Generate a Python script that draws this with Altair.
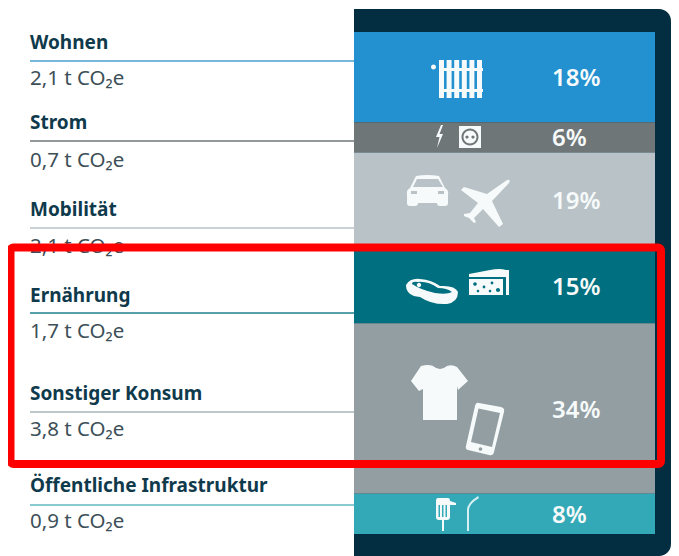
import re
import altair as alt
import pandas as pd

# --- chart values ---
categories = ["Wohnen", "Strom", "Mobilität", "Ernährung", "Sonstiger Konsum", "Öffentliche Infrastruktur"]
tonnes = ["2,1", "0,7", "2,1", "1,7", "3,8", "0,9"]
shares = [18, 6, 19, 15, 34, 8]

# --- styles and layout (page pixels) ---
colors = ["#2390d0", "#6f7678", "#b9c3c7", "#006f7f", "#929ea2", "#33a9b7"]
rule_colors = ["#4a9fd6", "#6f7678", "#b9c3c7", "#1f7f8e", "#a9b4b8", "#62b9c4"]
name_y = [43, 123, 210, 296, 394, 486]
rule_y = [61, 141, 228, 313, 412, 505]
value_y = [79, 161, 247, 332, 430, 522]
OX, OY = 10, 8
PX = lambda x: x - OX
PY = lambda y: y - OY
TOP, PER = 32, 5.02
HEADING = "#0f3a4c"
BODY = "#3d4f58"
FONT = "Noto Sans"
WHITE = "#f6fafa"

rows = []
acc = 0
for c, t, s, col in zip(categories, tonnes, shares, colors):
    rows.append(dict(cat=c, start=acc, end=acc + s, mid=acc + s / 2, label=f"{s}%", color=col))
    acc += s
bars = pd.DataFrame(rows)

y_scale = alt.Scale(domain=[(TOP - OY) / -PER, (548 - (TOP - OY)) / PER], range=[0, 548])


def one(**kw):
    return alt.Chart(pd.DataFrame([kw]))


# --- pictogram outlines ---
def circle(cx, cy, r, cw=True):
    k = r * 0.5523
    if cw:
        return (f"M{cx} {cy-r} C{cx+k} {cy-r} {cx+r} {cy-k} {cx+r} {cy} C{cx+r} {cy+k} {cx+k} {cy+r} {cx} {cy+r} "
                f"C{cx-k} {cy+r} {cx-r} {cy+k} {cx-r} {cy} C{cx-r} {cy-k} {cx-k} {cy-r} {cx} {cy-r} Z ")
    return (f"M{cx} {cy-r} C{cx-k} {cy-r} {cx-r} {cy-k} {cx-r} {cy} C{cx-r} {cy+k} {cx-k} {cy+r} {cx} {cy+r} "
            f"C{cx+k} {cy+r} {cx+r} {cy+k} {cx+r} {cy} C{cx+r} {cy-k} {cx+k} {cy-r} {cx} {cy-r} Z ")


def box(x0, y0, x1, y1, cw=True):
    if cw:
        return f"M{x0} {y0} L{x1} {y0} L{x1} {y1} L{x0} {y1} Z "
    return f"M{x0} {y0} L{x0} {y1} L{x1} {y1} L{x1} {y0} Z "


radiator = circle(433.5, 67, 2.5)
for i in range(6):
    radiator += box(439 + i * 7.6, 60, 444 + i * 7.6, 98)
radiator += box(439, 68, 483, 71) + box(439, 89, 483, 92)

bolt = "M441 125 L436 137 L439.5 137 L437 148 L443 134 L439.5 134 L443 125 Z "
socket = box(459, 126, 481, 148) + circle(470, 137, 8.5, False) + circle(470, 137, 6.5) + circle(467, 137, 1.6, False) + circle(473, 137, 1.6, False)

car = ("M416 176 Q427 174 439 176 L445 188 Q449 190 448 195 L448 203 Q448 206 445 206 L440 206 Q437 206 437 203 "
       "L418 203 Q418 206 415 206 L410 206 Q407 206 407 203 L407 195 Q406 190 410 188 Z "
       "M417 179 L413 187 L443 187 L438 179 Z " + box(411, 191, 417, 194, False) + box(438, 191, 444, 194, False))
plane = ("M507 180 Q511 179 509 183 L492 201 L503 224 L499 227 L483 209 L474 218 L476 222 L474 223 L469 218 "
         "L464 216 L464 214 L470 213 L478 203 L461 190 L464 187 L487 194 Z ")
steak = ("M406 285 Q410 278 420 279 Q432 280 440 286 Q455 285 458 292 Q458 302 447 304 Q432 305 420 297 Q406 296 406 285 Z "
         "M412 284 Q421 290 435 293 Q447 295 452 292 Q447 288 438 288 Q428 281 418 282 Q412 281 412 284 Z "
         + circle(419, 285, 2.2))
cheese = ("M469 274 L490 270 Q500 268 506 270 L506 277 L469 277 Z " + box(469, 279, 503, 295) + box(506, 270, 509, 295)
          + circle(475, 284, 1.8, False) + circle(484, 287, 1.4, False) + circle(492, 283, 1.4, False)
          + circle(498, 290, 2, False) + circle(478, 291, 1.3, False) + circle(490, 291, 1.3, False))
shirt = ("M421 366 Q428 364 433 366 Q440 372 447 366 Q452 364 457 367 L468 381 L458 390 L457 386 L457 420 L423 420 "
         "L423 389 L419 391 L411 381 Z ")
phone = ("M479 403 L501 407 Q505 408 504 412 L494 452 Q493 456 489 455 L468 450 Q465 449 466 446 L475 406 Q476 402 479 403 Z "
         "M478.5 408.5 L471 442 L492 447 L500 413 Z " + circle(480.5, 449, 1.8, False))
dryer = ("M438 498 L448 498 Q450 498 450 501 L456 503 L456 505 L450 505 L450 517 Q450 520 447 520 L444 520 L444 531 L442 531 "
         "L442 520 L439 520 Q436 520 436 517 L436 501 Q436 498 438 498 Z "
         + box(438.5, 505, 440, 517, False) + box(442, 505, 443.5, 517, False) + box(445.5, 505, 447, 517, False))
lamp = "M467 531 L467 510 Q467 503 478 496 L479 498 Q469 504 469 510 L469 531 Z "

icons = [
    (radiator, 458, 79, 27, WHITE),
    (bolt, 439.5, 136.5, 12, WHITE),
    (socket, 470, 137, 12, WHITE),
    (car, 427.5, 190, 22, WHITE),
    (plane, 486, 203, 26, WHITE),
    (steak, 432, 291.5, 27, WHITE),
    (cheese, 489, 282, 21, WHITE),
    (shirt, 439.5, 392.5, 29, WHITE),
    (phone, 485, 429, 28, WHITE),
    (dryer, 446, 514.5, 18, WHITE),
    (lamp, 473.5, 513.5, 18, "#d5eff2"),
]


def norm(d, cx, cy, half):
    nums = re.split(r"([MLQCZ])", d)
    out = []
    for tok in nums:
        tok = tok.strip()
        if not tok:
            continue
        if tok in "MLQCZ":
            out.append(tok)
        else:
            vals = [float(v) for v in tok.split()]
            pts = []
            for i in range(0, len(vals), 2):
                pts.append(f"{(vals[i]-cx)/half:.4f} {(vals[i+1]-cy)/half:.4f}")
            out.append(" ".join(pts))
    return " ".join(out)


layers = []

# dark panel
layers.append(one(a=1).mark_rect(color="#032d40", cornerRadiusTopRight=12, cornerRadiusBottomRight=12).encode(
    x=alt.value(PX(354)), x2=alt.value(PX(671)), y=alt.value(PY(9)), y2=alt.value(PY(556))))

# stacked segments
layers.append(alt.Chart(bars).mark_bar().encode(
    x=alt.value(PX(354)), x2=alt.value(PX(655)),
    y=alt.Y("start:Q", scale=y_scale, axis=None), y2="end:Q",
    color=alt.Color("color:N", scale=None, legend=None)))

# percent labels
layers.append(alt.Chart(bars).mark_text(font=FONT, fontSize=24, fontWeight=600, align="left", baseline="middle", dy=2, color=WHITE).encode(
    x=alt.value(PX(552)), y=alt.Y("mid:Q", scale=y_scale, axis=None), text="label:N"))

# left column
for i, c in enumerate(categories):
    layers.append(one(t=c).mark_rule(color=rule_colors[i], strokeWidth=1.6).encode(
        x=alt.value(PX(30)), x2=alt.value(PX(354)), y=alt.value(PY(rule_y[i]))))
    layers.append(one(t=c).mark_text(font=FONT, fontSize=19, fontWeight="bold", align="left", baseline="middle", color=HEADING).encode(
        x=alt.value(PX(30)), y=alt.value(PY(name_y[i])), text="t:N"))
    layers.append(one(t=f"{tonnes[i]} t CO₂e").mark_text(font=FONT, fontSize=20.5, align="left", baseline="middle", color=BODY).encode(
        x=alt.value(PX(30)), y=alt.value(PY(value_y[i])), text="t:N"))

# pictograms
for d, cx, cy, half, col in icons:
    layers.append(one(a=1).mark_point(shape=norm(d, cx, cy, half), size=(2 * half) ** 2, filled=True, fill=col, stroke=None, opacity=1, strokeWidth=0).encode(
        x=alt.value(PX(cx)), y=alt.value(PY(cy))))

# red highlight frame
layers.append(one(a=1).mark_rect(filled=False, stroke="#ff0000", strokeWidth=8, cornerRadius=3, fillOpacity=0).encode(
    x=alt.value(PX(10.5)), x2=alt.value(PX(661)), y=alt.value(PY(247.5)), y2=alt.value(PY(464))))

chart = alt.layer(*layers).properties(
    width=661, height=548,
    padding={"left": 2, "top": 0, "right": 0, "bottom": 0},
    autosize=alt.AutoSizeParams(type="none"),
    background="#ffffff",
).configure_view(stroke=None)

chart.save("out.html", embed_options={"renderer": "svg", "actions": False})
